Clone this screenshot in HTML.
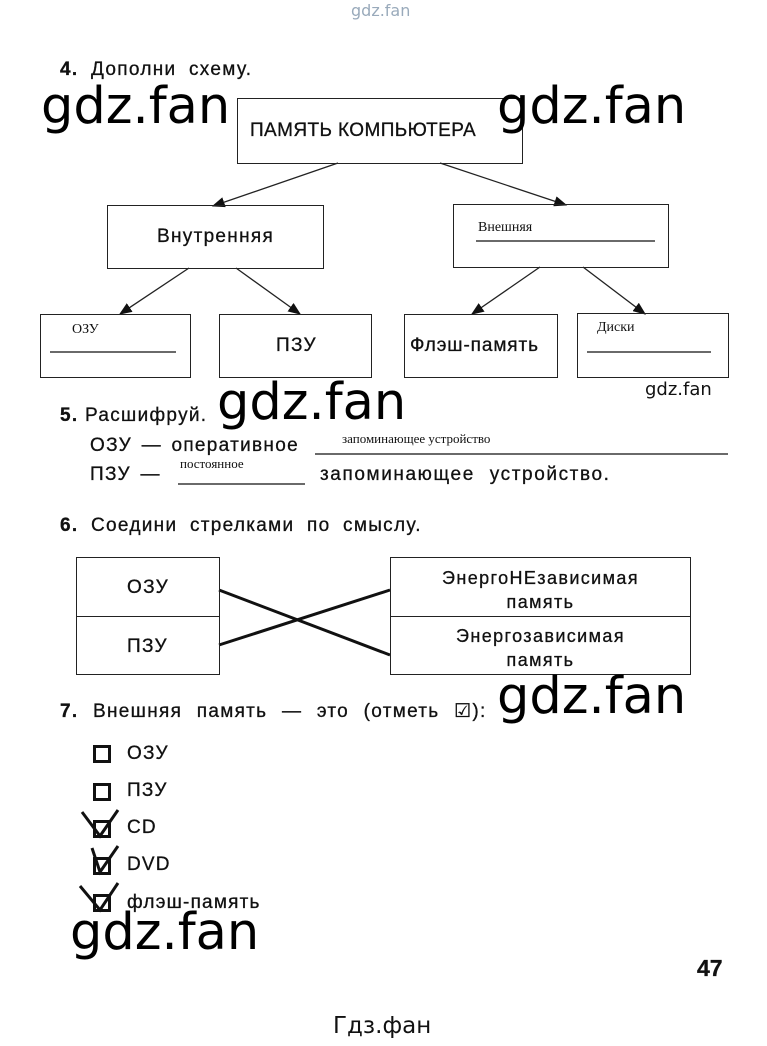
<!DOCTYPE html>
<html><head><meta charset="utf-8"><style>
body{margin:0;width:767px;height:1046px;background:#fff;position:relative;overflow:hidden;font-family:"Liberation Sans",Arial,sans-serif;color:#111}
.t{position:absolute;white-space:nowrap;line-height:1;-webkit-text-stroke:0.3px #111}
.w{font-size:19px;letter-spacing:1.3px}
.wm{position:absolute;font-family:"DejaVu Sans","Liberation Sans",sans-serif;font-size:51px;color:#000;line-height:1;white-space:nowrap}
.s{font-family:"Liberation Serif",serif;font-size:14px;-webkit-text-stroke:0}
.b{position:absolute;border:1.5px solid #222;box-sizing:border-box}
.cb{position:absolute;left:93px;width:18px;height:18px;border:3px solid #111;box-sizing:border-box}
.cl{position:absolute;left:127px;font-size:19px;letter-spacing:1.2px;line-height:1;-webkit-text-stroke:0.3px #111}
</style></head><body>
<div class="t" style="left:351px;top:3px;font-size:16px;color:#9ab;font-family:'DejaVu Sans',sans-serif;-webkit-text-stroke:0">gdz.fan</div>
<div class="t w" style="left:60px;top:60px;word-spacing:6px"><b>4.</b> Дополни схему.</div>

<svg width="767" height="1046" style="position:absolute;left:0;top:0">
<defs><marker id="a" markerWidth="10" markerHeight="8" refX="9" refY="4" orient="auto"><path d="M0,0L10,4L0,8z" fill="#111"/></marker></defs>
<g stroke="#222" stroke-width="1.3" marker-end="url(#a)">
<line x1="338" y1="163" x2="213" y2="206"/>
<line x1="440" y1="163" x2="566" y2="205"/>
<line x1="189" y1="268" x2="120" y2="314"/>
<line x1="236" y1="268" x2="300" y2="314"/>
<line x1="540" y1="267" x2="472" y2="314"/>
<line x1="583" y1="267" x2="645" y2="314"/>
</g>
<g stroke="#111" stroke-width="1.3">
<line x1="476" y1="241" x2="655" y2="241"/>
<line x1="50" y1="352" x2="176" y2="352"/>
<line x1="587" y1="352" x2="711" y2="352"/>
<line x1="315" y1="454" x2="728" y2="454"/>
<line x1="178" y1="484" x2="305" y2="484"/>
</g>
<g stroke="#111" stroke-width="3" fill="none">
<line x1="219" y1="590" x2="390" y2="655"/>
<line x1="219" y1="645" x2="390" y2="590"/>
<path d="M82,812 L100,836 L118,810"/>
<path d="M92,848 L100,872 L118,846"/>
<path d="M80,886 L100,910 L118,883"/>
</g>
</svg>

<div class="b" style="left:237px;top:98px;width:286px;height:66px"></div>
<div class="t" style="left:250px;top:121px;font-size:19px;letter-spacing:0.4px">ПАМЯТЬ КОМПЬЮТЕРА</div>
<div class="b" style="left:107px;top:205px;width:217px;height:64px"></div>
<div class="t w" style="left:157px;top:227px">Внутренняя</div>
<div class="b" style="left:453px;top:204px;width:216px;height:64px"></div>
<div class="t s" style="left:478px;top:221px">Внешняя</div>
<div class="b" style="left:40px;top:314px;width:151px;height:64px"></div>
<div class="t s" style="left:72px;top:323px">ОЗУ</div>
<div class="b" style="left:219px;top:314px;width:153px;height:64px"></div>
<div class="t w" style="left:276px;top:336px">ПЗУ</div>
<div class="b" style="left:404px;top:314px;width:154px;height:64px"></div>
<div class="t" style="left:410px;top:336px;font-size:19px;letter-spacing:0.9px">Флэш-память</div>
<div class="b" style="left:577px;top:313px;width:152px;height:65px"></div>
<div class="t s" style="left:597px;top:321px">Диски</div>

<div class="wm" style="left:41px;top:81px">gdz.fan</div>
<div class="wm" style="left:497px;top:81px">gdz.fan</div>
<div class="t" style="left:645px;top:381px;font-size:18px;font-family:'DejaVu Sans',sans-serif;-webkit-text-stroke:0">gdz.fan</div>

<div class="t w" style="left:60px;top:406px"><b>5.</b> Расшифруй.</div>
<div class="wm" style="left:217px;top:377px">gdz.fan</div>
<div class="t w" style="left:90px;top:436px;word-spacing:3px">ОЗУ — оперативное</div>
<div class="t s" style="left:342px;top:432px;font-size:13px">запоминающее устройство</div>
<div class="t w" style="left:90px;top:465px;word-spacing:3px">ПЗУ —</div>
<div class="t s" style="left:180px;top:457px;font-size:13px">постоянное</div>
<div class="t w" style="left:320px;top:465px;word-spacing:8px;letter-spacing:1.6px">запоминающее устройство.</div>

<div class="t w" style="left:60px;top:516px;word-spacing:6px"><b>6.</b> Соедини стрелками по смыслу.</div>
<div class="b" style="left:76px;top:557px;width:144px;height:118px"></div>
<div class="b" style="left:76px;top:616px;width:144px;height:1.5px;border-width:1px 0 0 0"></div>
<div class="t w" style="left:127px;top:578px">ОЗУ</div>
<div class="t w" style="left:127px;top:637px">ПЗУ</div>
<div class="b" style="left:390px;top:557px;width:301px;height:118px"></div>
<div class="b" style="left:390px;top:616px;width:301px;height:1.5px;border-width:1px 0 0 0"></div>
<div class="t" style="left:390px;top:566px;width:301px;text-align:center;font-size:18px;letter-spacing:1.4px;line-height:24px">ЭнергоНЕзависимая<br>память</div>
<div class="t" style="left:390px;top:624px;width:301px;text-align:center;font-size:18px;letter-spacing:1.4px;line-height:24px">Энергозависимая<br>память</div>

<div class="t w" style="left:60px;top:702px;word-spacing:8px"><b>7.</b> Внешняя память — это (отметь ☑):</div>
<div class="wm" style="left:497px;top:671px">gdz.fan</div>
<div class="cb" style="top:745px"></div><div class="cl" style="top:744px">ОЗУ</div>
<div class="cb" style="top:783px"></div><div class="cl" style="top:781px">ПЗУ</div>
<div class="cb" style="top:820px"></div><div class="cl" style="top:818px">CD</div>
<div class="cb" style="top:857px"></div><div class="cl" style="top:855px">DVD</div>
<div class="cb" style="top:894px"></div><div class="cl" style="top:893px">флэш-память</div>
<div class="wm" style="left:70px;top:907px">gdz.fan</div>
<div class="t" style="left:697px;top:957px;font-size:23px;font-weight:bold">47</div>
<div class="t" style="left:333px;top:1015px;font-size:23px;font-family:'DejaVu Sans',sans-serif;-webkit-text-stroke:0">Гдз.фан</div>
</body></html>
